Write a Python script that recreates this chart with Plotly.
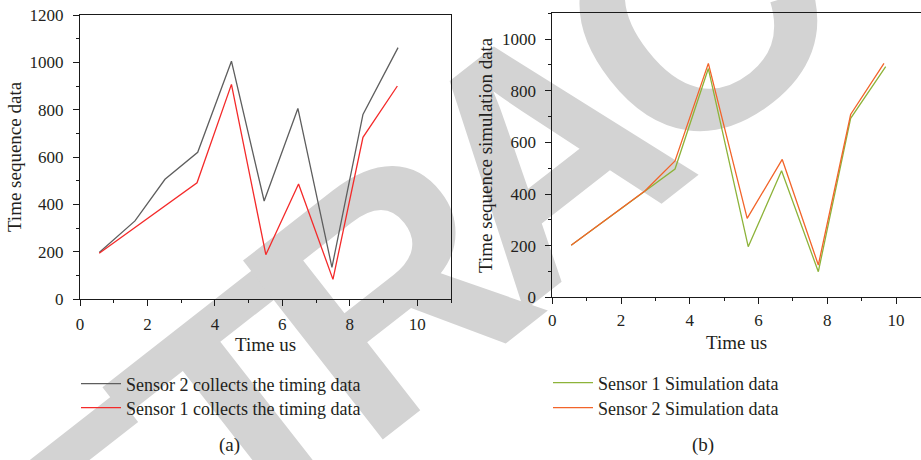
import math
import plotly.graph_objects as go

W, H = 921, 460

# ---- data (a)
xa_s2 = [0.57, 1.63, 2.52, 3.49, 4.49, 5.46, 6.46, 7.47, 8.39, 9.43]
ya_s2 = [196, 330, 506, 620, 1005, 414, 805, 134, 780, 1062]
xa_s1 = [0.57, 1.55, 2.5, 3.47, 4.49, 5.51, 6.48, 7.5, 8.39, 9.41]
ya_s1 = [193, 294, 392, 491, 907, 187, 486, 83, 683, 900]

# ---- data (b)
xb_s1 = [0.55, 1.62, 2.7, 3.57, 4.54, 5.70, 6.67, 7.74, 8.68, 9.70]
yb_s1 = [202, 307, 413, 497, 886, 196, 490, 99, 693, 893]
xb_s2 = [0.55, 1.62, 2.7, 3.57, 4.54, 5.67, 6.69, 7.74, 8.68, 9.65]
yb_s2 = [202, 307, 413, 528, 906, 306, 534, 125, 708, 906]

name_a2 = "Sensor 2 collects the timing data"
name_a1 = "Sensor 1 collects the timing data"
name_b1 = "Sensor 1 Simulation data"
name_b2 = "Sensor 2 Simulation data"

watermark = "RETRACTED"

TXT = "#231f20"
FONT = "Liberation Serif"

fig = go.Figure()
fig.add_trace(go.Scatter(x=xa_s2, y=ya_s2, mode="lines", name=name_a2,
                         line=dict(color="#5e5e5e", width=1.3), xaxis="x", yaxis="y", legend="legend"))
fig.add_trace(go.Scatter(x=xa_s1, y=ya_s1, mode="lines", name=name_a1,
                         line=dict(color="#f42a2a", width=1.3), xaxis="x", yaxis="y", legend="legend2"))
fig.add_trace(go.Scatter(x=xb_s1, y=yb_s1, mode="lines", name=name_b1,
                         line=dict(color="#8db33a", width=1.3), xaxis="x2", yaxis="y2", legend="legend3"))
fig.add_trace(go.Scatter(x=xb_s2, y=yb_s2, mode="lines", name=name_b2,
                         line=dict(color="#f2642a", width=1.3), xaxis="x2", yaxis="y2", legend="legend4"))


def px_x(p):
    return p / W


def px_y(p):
    return 1 - p / H


tickfont = dict(family=FONT, size=17, color=TXT)
titlefont = dict(family=FONT, size=19, color=TXT)

common_x = dict(showline=True, linecolor="#1a1a1a", linewidth=1, ticks="outside", ticklen=6,
                tickcolor="#1a1a1a", tickwidth=1, showgrid=False, zeroline=False, automargin=False,
                tickfont=tickfont, dtick=2, tick0=0,
                minor=dict(ticks="outside", ticklen=3, dtick=1, tickcolor="#1a1a1a", showgrid=False))
common_y = dict(showline=True, linecolor="#1a1a1a", linewidth=1, ticks="outside", ticklen=6,
                tickcolor="#1a1a1a", tickwidth=1, showgrid=False, zeroline=False, automargin=False,
                tickfont=tickfont, dtick=200, tick0=0,
                minor=dict(ticks="outside", ticklen=3, dtick=100, tickcolor="#1a1a1a", showgrid=False))


def leg(xp, yp):
    return dict(x=px_x(xp), y=px_y(yp), xanchor="left", yanchor="middle", bgcolor="rgba(0,0,0,0)",
                font=dict(family=FONT, size=18, color=TXT), itemwidth=40, borderwidth=0)


fig.update_layout(
    width=W, height=H,
    margin=dict(l=0, r=0, t=0, b=0),
    paper_bgcolor="white", plot_bgcolor="rgba(0,0,0,0)",
    font=dict(family=FONT, color=TXT),
    xaxis=dict(common_x, domain=[px_x(80), px_x(451)], range=[0, 11], anchor="y", mirror=True,
               title=dict(text="Time us", font=titlefont, standoff=4), ticklabelstandoff=4),
    yaxis=dict(common_y, domain=[px_y(299), px_y(15)], range=[0, 1200], anchor="x", mirror=True,
               title=dict(text="Time sequence data", font=titlefont, standoff=2), ticklabelstandoff=6),
    xaxis2=dict(common_x, domain=[px_x(552.3), 1.0], range=[0, 10.727], anchor="y2", mirror=True,
                title=dict(text="Time us", font=titlefont, standoff=6), ticklabelstandoff=1),
    yaxis2=dict(common_y, domain=[px_y(297.3), px_y(13.3)], range=[0, 1100], anchor="x2",
                title=dict(text="Time sequence simulation data", font=titlefont, standoff=4),
                ticklabelstandoff=6),
    legend=leg(76, 384),
    legend2=leg(76, 408),
    legend3=leg(548, 383),
    legend4=leg(548, 408),
    showlegend=True,
)

fig.add_annotation(text="(a)", x=px_x(229), y=px_y(445), xref="paper", yref="paper",
                   xanchor="center", yanchor="middle",
                   showarrow=False, font=dict(family=FONT, size=19, color=TXT))
fig.add_annotation(text="(b)", x=px_x(703), y=px_y(445), xref="paper", yref="paper",
                   xanchor="center", yanchor="middle",
                   showarrow=False, font=dict(family=FONT, size=19, color=TXT))

# watermark (one label per letter, drawn beneath the traces)
adv = {"R": 0.722, "E": 0.667, "T": 0.611, "A": 0.722, "C": 0.722, "D": 0.722}
S, f = 330, 0.86
glyph_angle, base_angle = 38, 42
ux, uy = math.cos(math.radians(base_angle)), -math.sin(math.radians(base_angle))
ax, ay = 522, 128
total = sum(adv[c] for c in watermark)
pos = 0.0
for c in watermark:
    mid = pos + adv[c] / 2 - total / 2
    pos += adv[c]
    lx = ax + mid * S * f * ux
    ly = ay + mid * S * f * uy
    fig.add_shape(type="rect", xref="paper", yref="paper",
                  x0=px_x(lx - 1), x1=px_x(lx + 1), y0=px_y(ly + 1), y1=px_y(ly - 1),
                  line=dict(width=0), fillcolor="rgba(0,0,0,0)", layer="below",
                  label=dict(text=c, textangle=-glyph_angle, textposition="middle center",
                             font=dict(family="Liberation Sans Narrow, Liberation Sans", size=S,
                                       color="#d3d3d3", weight="bold")))

fig.write_html("out.html", config={"displayModeBar": False},
               post_script="document.body.style.margin='0px';")
